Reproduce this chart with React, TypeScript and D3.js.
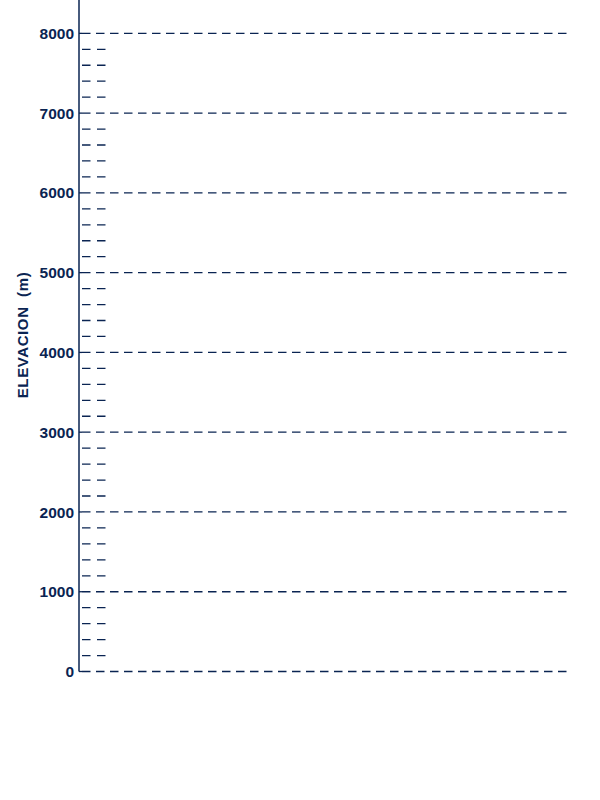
import React from "react";
import * as d3 from "d3";

const majorTicks = [0, 1000, 2000, 3000, 4000, 5000, 6000, 7000, 8000];
const minorTicks = [
  200, 400, 600, 800, 1200, 1400, 1600, 1800, 2200, 2400, 2600, 2800,
  3200, 3400, 3600, 3800, 4200, 4400, 4600, 4800, 5200, 5400, 5600, 5800,
  6200, 6400, 6600, 6800, 7200, 7400, 7600, 7800,
];
const yDomain = [0, 8418];
const axisTitle = "ELEVACION\u00a0\u00a0(m)";

const W = 600;
const H = 800;
const COLOR = "#0a2452";
const FONT = "'Liberation Sans', Arial, Helvetica, sans-serif";

export default function App() {
  const axisX = 79;
  const gridEnd = 568;
  const y = d3.scaleLinear().domain(yDomain).range([671.5, 0]);

  return (
    <svg
      width={W}
      height={H}
      style={{ position: "absolute", left: 0, top: 0, background: "#fff" }}
    >
      <line x1={axisX} x2={axisX} y1={y(0)} y2={0} stroke={COLOR} strokeWidth={1.5} />
      {majorTicks.map((t) => (
        <g key={"M" + t}>
          <line x1={axisX} x2={82} y1={y(t)} y2={y(t)} stroke={COLOR} strokeWidth={1.3} />
          <line
            x1={82}
            x2={gridEnd}
            y1={y(t)}
            y2={y(t)}
            stroke={COLOR}
            strokeWidth={1.3}
            strokeDasharray="8.5,5.5"
          />
          <text
            x={74}
            y={y(t)}
            dy="0.36em"
            textAnchor="end"
            fontFamily={FONT}
            fontSize={15.5}
            fontWeight="bold"
            fill={COLOR}
          >
            {t}
          </text>
        </g>
      ))}
      {minorTicks.map((t) => (
        <line
          key={"m" + t}
          x1={82}
          x2={106}
          y1={y(t)}
          y2={y(t)}
          stroke={COLOR}
          strokeWidth={1.3}
          strokeDasharray="8.5,6.5"
        />
      ))}
      <text
        transform={`translate(27.5, ${335}) rotate(-90)`}
        textAnchor="middle"
        fontFamily={FONT}
        fontSize={15}
        fontWeight="bold"
        fill={COLOR}
        letterSpacing={0.6}
      >
        {axisTitle}
      </text>
    </svg>
  );
}
